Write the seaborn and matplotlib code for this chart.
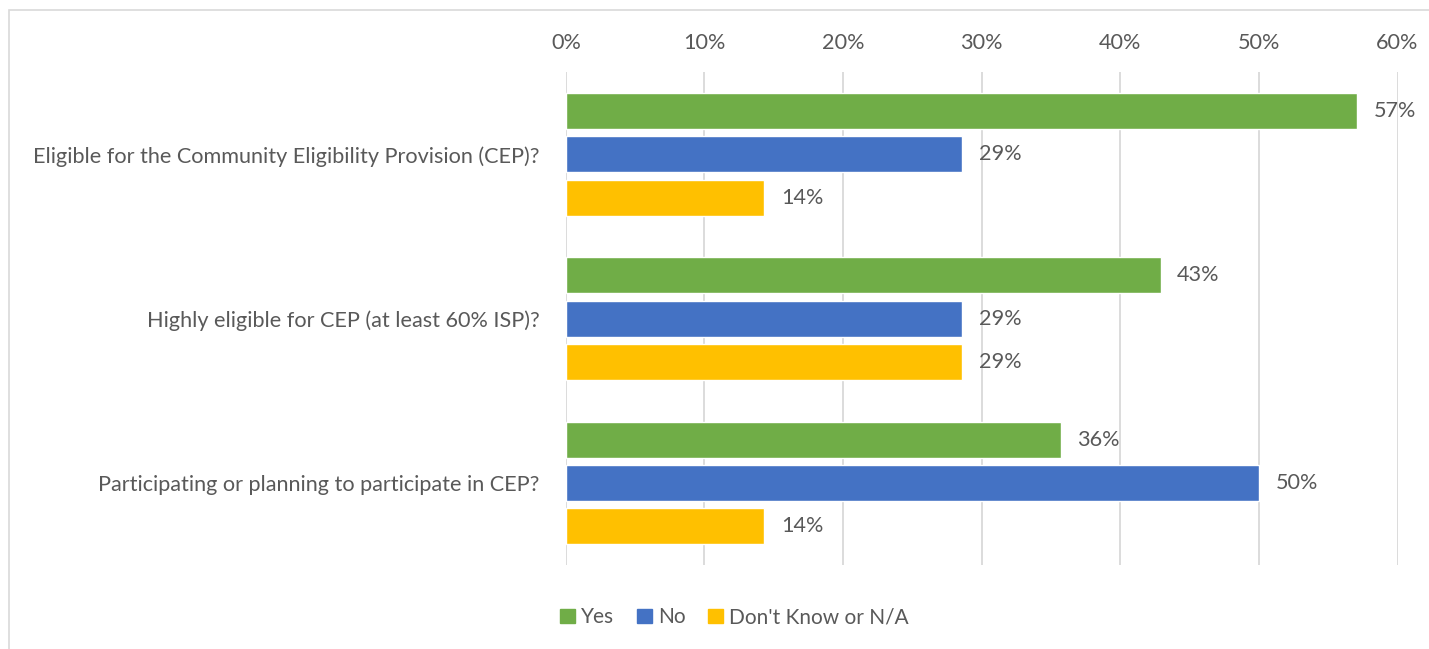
import pandas as pd
import matplotlib.pyplot as plt
import seaborn as sns
from matplotlib.patches import Rectangle

# Survey questions and answer shares (%)
questions = [
    "Eligible for the Community Eligibility Provision (CEP)?",
    "Highly eligible for CEP (at least 60% ISP)?",
    "Participating or planning to participate in CEP?",
]
answers = ["Yes", "No", "Don't Know or N/A"]
yes_vals = [57.1, 42.9, 35.7]
no_vals = [28.6, 28.6, 50.0]
dk_vals = [14.3, 28.6, 14.3]
xticks = [0, 10, 20, 30, 40, 50, 60]
colors = ["#70AD47", "#4472C4", "#FFC000"]

df = pd.DataFrame({
    "Question": questions * 3,
    "Answer": [answers[0]] * 3 + [answers[1]] * 3 + [answers[2]] * 3,
    "Share": yes_vals + no_vals + dk_vals,
})

sns.set_style("white")
plt.rcParams["font.family"] = ["Lato", "DejaVu Sans"]
text_color = "#595959"
fs = 15.6

fig = plt.figure(figsize=(14.29, 6.49), dpi=100)
ax = fig.add_axes([0.396, 0.129, 0.582, 0.760])

sns.barplot(data=df, y="Question", x="Share", hue="Answer", order=questions,
            hue_order=answers, palette=colors, orient="h", width=0.79,
            gap=0.17, saturation=1, errorbar=None, ax=ax)

# Data labels
for cont in ax.containers:
    ax.bar_label(cont, labels=[f"{v:.0f}%" for v in cont.datavalues],
                 padding=12, fontsize=fs, color=text_color)

ax.set_xlim(0, 60)
ax.set_ylim(2.5, -0.5)
ax.set_xticks(xticks)
ax.set_xticklabels([f"{t}%" for t in xticks])
ax.xaxis.tick_top()
ax.tick_params(axis="x", length=0, pad=14, labelsize=fs, colors=text_color)
ax.tick_params(axis="y", length=0, pad=19, labelsize=fs, colors=text_color)
ax.grid(axis="x", color="#D9D9D9", linewidth=1.3)
ax.set_axisbelow(True)
for s in ax.spines.values():
    s.set_visible(False)
ax.set_xlabel("")
ax.set_ylabel("")

ax.legend_.remove()
handles = [plt.Rectangle((0, 0), 1, 1, color=c) for c in colors]
fig.legend(handles, answers, loc="center", bbox_to_anchor=(0.514, 0.049),
           ncol=3, frameon=False, fontsize=15, handlelength=0.7,
           handleheight=0.7, handletextpad=0.3, columnspacing=1.1,
           labelcolor=text_color)

# Chart frame
fig.add_artist(Rectangle((0.006, -0.2), 1.2, 1.185, transform=fig.transFigure,
                         fill=False, edgecolor="#D9D9D9", linewidth=1.2))

plt.savefig("out.png", dpi=100)
